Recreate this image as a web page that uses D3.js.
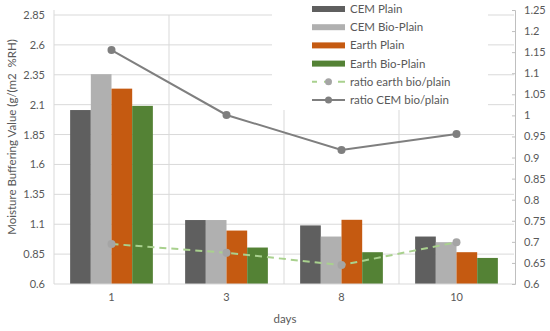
<!DOCTYPE html>
<html>
<head>
<meta charset="utf-8">
<script src="https://cdn.jsdelivr.net/npm/d3@7"></script>
<style>
  body { margin: 0; background: #fff; }
  svg { font-family: Lato, "Liberation Sans", sans-serif; }
</style>
</head>
<body>
<div id="chart"></div>
<script>
// days on the x axis
const days = ["1", "3", "8", "10"];

// bar series (left axis)
const seriesNames = ["CEM Plain", "CEM Bio-Plain", "Earth Plain", "Earth Bio-Plain"];
const cemPlain = [2.055, 1.135, 1.09, 0.997];
const cemBio = [2.355, 1.135, 0.997, 0.95];
const earthPlain = [2.234, 1.047, 1.137, 0.866];
const earthBio = [2.09, 0.905, 0.866, 0.818];

// ratio lines (right axis)
const ratioEarth = [0.695, 0.674, 0.645, 0.699];
const ratioCem = [1.155, 1.001, 0.918, 0.956];

// tick labels
const leftTicks = [0.6, 0.85, 1.1, 1.35, 1.6, 1.85, 2.1, 2.35, 2.6, 2.85];
const rightTicks = [0.6, 0.65, 0.7, 0.75, 0.8, 0.85, 0.9, 0.95, 1, 1.05, 1.1, 1.15, 1.2, 1.25];

const barColors = ["#5f5f5f", "#b0b0b0", "#c55a11", "#548235"];
const barData = [cemPlain, cemBio, earthPlain, earthBio];

const width = 550, height = 331;
const plotLeft = 54, plotRight = 514, plotTop = 15, plotBottom = 284;

const svg = d3.select("#chart").append("svg")
  .attr("width", width)
  .attr("height", height);

const x = d3.scaleBand().domain(days).range([plotLeft, plotRight]);
const xs = d3.scaleBand().domain(d3.range(4))
  .range([0, x.bandwidth()]).paddingOuter(0.78).paddingInner(0);
const y = d3.scaleLinear().domain([0.6, 2.85]).range([plotBottom, plotTop]);
const y2 = d3.scaleLinear().domain([0.6, 1.25]).range([plotBottom, 10]);

const grid = "#d9d9d9";

// horizontal gridlines
svg.append("g")
  .selectAll("line")
  .data(leftTicks.slice(1))
  .join("line")
  .attr("x1", plotLeft).attr("x2", plotRight)
  .attr("y1", d => y(d)).attr("y2", d => y(d))
  .attr("stroke", grid).attr("stroke-width", 1);

// vertical gridlines between categories
svg.append("g")
  .selectAll("line")
  .data(days.slice(1))
  .join("line")
  .attr("x1", d => x(d)).attr("x2", d => x(d))
  .attr("y1", plotTop).attr("y2", plotBottom)
  .attr("stroke", grid);

// bars
days.forEach((day, i) => {
  svg.append("g")
    .selectAll("rect")
    .data(barData.map((s, j) => ({ j, v: s[i] })))
    .join("rect")
    .attr("x", d => x(day) + xs(d.j))
    .attr("width", xs.bandwidth())
    .attr("y", d => y(d.v))
    .attr("height", d => plotBottom - y(d.v))
    .attr("fill", d => barColors[d.j]);
});

// axes lines
svg.append("line").attr("x1", plotLeft).attr("x2", plotLeft).attr("y1", 10).attr("y2", plotBottom).attr("stroke", grid);
svg.append("line").attr("x1", plotLeft).attr("x2", plotRight + 1).attr("y1", plotBottom).attr("y2", plotBottom).attr("stroke", grid);

const rightAxis = svg.append("g")
  .attr("transform", `translate(${plotRight + 1},0)`)
  .call(d3.axisRight(y2).tickValues(rightTicks).tickFormat(d => d).tickSize(-3).tickPadding(9));
rightAxis.select(".domain").attr("stroke", "#bfbfbf");
rightAxis.selectAll(".tick line").attr("stroke", "#bfbfbf");
rightAxis.selectAll("text").attr("fill", "#595959").attr("font-size", 11).attr("font-family", "Lato");

const leftAxis = svg.append("g")
  .attr("transform", `translate(${plotLeft},0)`)
  .call(d3.axisLeft(y).tickValues(leftTicks).tickFormat(d => d).tickSize(0).tickPadding(9));
leftAxis.select(".domain").remove();
leftAxis.selectAll("text").attr("fill", "#595959").attr("font-size", 11).attr("font-family", "Lato");

const bottomAxis = svg.append("g")
  .attr("transform", `translate(0,${plotBottom})`)
  .call(d3.axisBottom(x).tickSize(0).tickPadding(9));
bottomAxis.select(".domain").remove();
bottomAxis.selectAll("text").attr("fill", "#595959").attr("font-size", 11).attr("font-family", "Lato");

// ratio lines
const line = d3.line().x((d, i) => x(days[i]) + x.bandwidth() / 2).y(d => y2(d));

svg.append("path").datum(ratioEarth)
  .attr("d", line).attr("fill", "none")
  .attr("stroke", "#a9d18e").attr("stroke-width", 2).attr("stroke-dasharray", "7,5");
svg.append("g").selectAll("circle").data(ratioEarth).join("circle")
  .attr("cx", (d, i) => x(days[i]) + x.bandwidth() / 2).attr("cy", d => y2(d))
  .attr("r", 4).attr("fill", "#a5a5a5");

svg.append("path").datum(ratioCem)
  .attr("d", line).attr("fill", "none")
  .attr("stroke", "#7f7f7f").attr("stroke-width", 2);
svg.append("g").selectAll("circle").data(ratioCem).join("circle")
  .attr("cx", (d, i) => x(days[i]) + x.bandwidth() / 2).attr("cy", d => y2(d))
  .attr("r", 4).attr("fill", "#7f7f7f");

// legend
const legend = svg.append("g");
legend.append("rect").attr("x", 272).attr("y", 0).attr("width", 216).attr("height", 110).attr("fill", "#fff");
const legendItems = seriesNames.map((n, i) => ({ name: n, type: "bar", color: barColors[i] }))
  .concat([
    { name: "ratio earth bio/plain", type: "dash", color: "#a9d18e", marker: "#a5a5a5" },
    { name: "ratio CEM bio/plain", type: "solid", color: "#7f7f7f", marker: "#7f7f7f" }
  ]);
legendItems.forEach((d, i) => {
  const cy = 9 + i * 18.2;
  const g = legend.append("g");
  if (d.type === "bar") {
    g.append("rect").attr("x", 312).attr("y", cy - 3).attr("width", 33).attr("height", 6).attr("fill", d.color);
  } else {
    g.append("line").attr("x1", 312).attr("x2", 345).attr("y1", cy).attr("y2", cy)
      .attr("stroke", d.color).attr("stroke-width", 2)
      .attr("stroke-dasharray", d.type === "dash" ? "7,7" : null)
      .attr("stroke-dashoffset", d.type === "dash" ? 2 : null);
    g.append("circle").attr("cx", 328.5).attr("cy", cy).attr("r", 3.5).attr("fill", d.marker);
  }
  g.append("text").attr("x", 350).attr("y", cy).attr("dy", "0.35em")
    .attr("font-size", 11.5).attr("fill", "#595959").text(d.name);
});

// axis titles
svg.append("text")
  .attr("transform", `translate(16,137) rotate(-90)`)
  .attr("text-anchor", "middle")
  .attr("font-size", 11.5).attr("fill", "#595959")
  .style("white-space", "pre")
  .text("Moisture Buffering Value (g/(m2  %RH)");

svg.append("text")
  .attr("x", 285).attr("y", 323)
  .attr("text-anchor", "middle")
  .attr("font-size", 11.5).attr("fill", "#595959")
  .text("days");
</script>
</body>
</html>
